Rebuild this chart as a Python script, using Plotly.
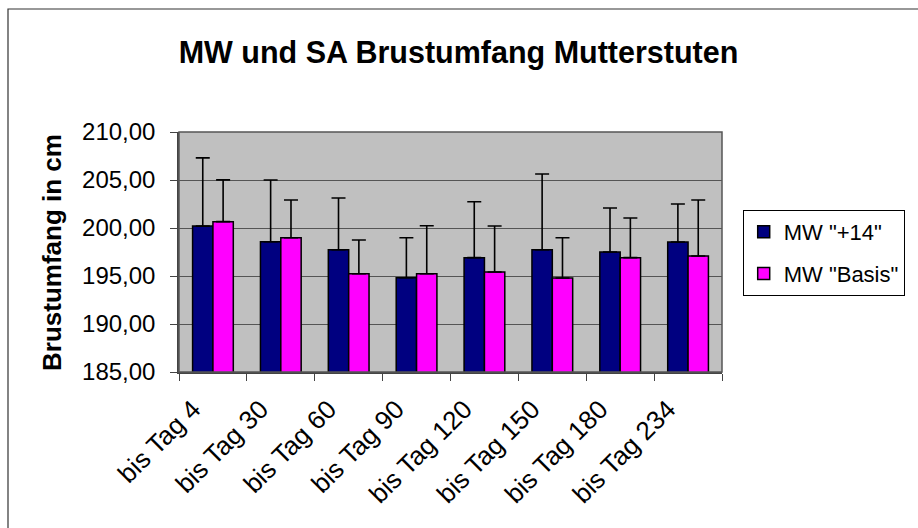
import plotly.graph_objects as go

categories = ["bis Tag 4", "bis Tag 30", "bis Tag 60", "bis Tag 90",
              "bis Tag 120", "bis Tag 150", "bis Tag 180", "bis Tag 234"]
mw_plus14 = [200.2, 198.57, 197.74, 194.82, 196.91, 197.74, 197.5, 198.54]
sa_plus14 = [7.1, 6.43, 5.38, 4.17, 5.83, 7.89, 4.58, 3.96]
mw_basis = [200.66, 198.99, 195.24, 195.24, 195.42, 194.79, 196.91, 197.08]
sa_basis = [4.35, 3.93, 3.51, 5.0, 4.79, 4.2, 4.13, 5.84]
series_names = ['MW "+14"', 'MW "Basis"']

FONT = "Liberation Sans, Arial, sans-serif"

fig = go.Figure()
for name, vals, errs, color, grp in [
    (series_names[0], mw_plus14, sa_plus14, "#000080", "a"),
    (series_names[1], mw_basis, sa_basis, "#FF00FF", "b"),
]:
    fig.add_trace(go.Bar(
        x=categories, y=vals, name=name, legendgroup=grp,
        marker=dict(color=color, line=dict(color="black", width=1.5)),
        error_y=dict(type="data", symmetric=False, array=errs,
                     arrayminus=[0] * len(errs), color="black",
                     thickness=1.6, width=7),
    ))

L, R, T, B = 179, 918 - 722, 132, 528 - 372
pw, ph = 722 - 179, 372 - 132

def px_x(x):
    return (x - L) / pw

def px_y(y):
    return (372 - y) / ph

fig.update_layout(
    width=918, height=528,
    margin=dict(l=L, r=R, t=T, b=B, autoexpand=False),
    paper_bgcolor="white", plot_bgcolor="#C0C0C0",
    barmode="group", bargap=0.4, bargroupgap=0,
    separators=",.",
    font=dict(family=FONT, color="black", size=22),
    title=dict(text="<b>MW und SA Brustumfang Mutterstuten</b>",
               x=458.5 / 918, xanchor="center", y=1 - 52 / 528, yanchor="middle",
               font=dict(family=FONT, size=30.5, color="black")),
    xaxis=dict(type="category", tickangle=-45, ticks="outside", tickson="boundaries",
               ticklen=7, tickcolor="#444", showline=True, linecolor="#444", linewidth=1.5,
               tickfont=dict(family=FONT, size=26), showgrid=False,
               ticklabelshift=-20, ticklabelstandoff=10),
    yaxis=dict(range=[185, 210], dtick=5, tickformat=".2f", ticks="outside", ticklen=7,
               tickcolor="#444", showline=True, linecolor="#444", linewidth=1.5,
               gridcolor="#555555", gridwidth=1.2, tickfont=dict(family=FONT, size=24),
               ticklabelstandoff=10, zeroline=False),
    legend=dict(x=px_x(742.7), y=px_y(210), xanchor="left", yanchor="top",
                bordercolor="black", borderwidth=1, bgcolor="white",
                font=dict(family=FONT, size=22), tracegroupgap=10,
                itemclick=False),
    showlegend=True,
    annotations=[dict(text="<b>Brustumfang in cm</b>", textangle=-90,
                      x=px_x(52), y=0.5, xref="paper", yref="paper",
                      xanchor="center", yanchor="middle", showarrow=False,
                      font=dict(family=FONT, size=26, color="black"))],
    shapes=[
        dict(type="rect", xref="paper", yref="paper", x0=0, x1=1, y0=0, y1=1,
             line=dict(color="#555", width=1.5), layer="above"),
        dict(type="rect", xref="paper", yref="paper", x0=px_x(8), x1=px_x(930),
             y0=px_y(540), y1=px_y(9), line=dict(color="#333", width=1.2)),
    ],
)

fig.write_html("out.html", config={"displayModeBar": False},
               post_script="document.body.style.margin='0px';")
